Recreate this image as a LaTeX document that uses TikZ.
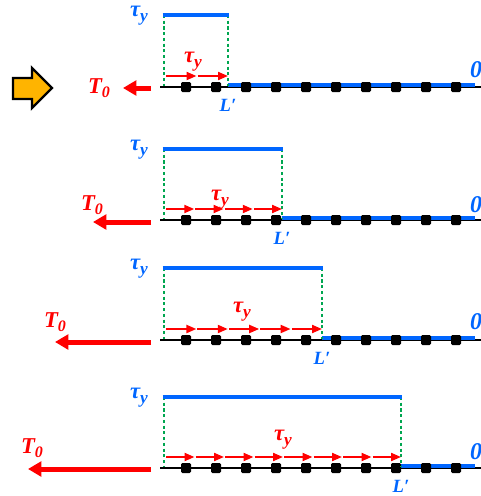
\documentclass[tikz,border=0pt]{standalone}
\usepackage{fontspec}
\setmainfont{Liberation Serif}
\usetikzlibrary{arrows.meta}
\definecolor{lineblue}{RGB}{0,102,255}
\definecolor{dotgreen}{RGB}{0,166,80}
\definecolor{gold}{RGB}{255,180,0}

% stress symbol and pulling force symbol
\newcommand\tauy{τ\raisebox{-0.45ex}{\fontsize{13}{13}\selectfont y}}
\newcommand\tzero{T\raisebox{-0.4ex}{\fontsize{12}{12}\selectfont 0}}

\tikzset{
  base/.style={line width=1.5pt, black},
  bond/.style={draw=none, fill=black, rectangle, minimum size=7.5pt, inner sep=0pt, rounded corners=1pt},
  yieldline/.style={line width=3pt, lineblue},
  guide/.style={dotgreen, line width=2.2pt, dash pattern=on 2.3pt off 2pt},
  stress/.style={red, line width=1.5pt, -{Triangle[length=7.5pt,width=6pt]}},
  pull/.style={red, line width=3.75pt, -{Triangle[length=10pt,width=11pt]}},
  lbl/.style={inner sep=0pt, font=\bfseries\itshape\fontsize{17}{17}\selectfont},
  smalllbl/.style={inner sep=0pt, font=\bfseries\itshape\fontsize{14}{14}\selectfont},
  biglbl/.style={inner sep=0pt, font=\bfseries\itshape\fontsize{18}{18}\selectfont},
}

\begin{document}
\begin{tikzpicture}[x=0.75pt,y=-0.75pt]
\useasboundingbox (0,0) rectangle (481,496);

% loading indicator
\draw[fill=gold, line width=1.8pt, line join=miter]
  (13,78) -- (32,78) -- (32,68) -- (52,88) -- (32,108) -- (32,99) -- (13,99) -- cycle;

% index / baseline / top / L' position / arrows / T0 arrow end / T0 label / red tau label / 0 label
\foreach \i/\pb/\pt/\pL/\pn/\ax/\ay/\tx/\ty/\rx/\ry/\zy in {
  1/87/15/228/2/123/88/99/88/193/62/70,
  2/220/149/282/4/93/222/92/205/220/200/205,
  3/340/268/322/5/55/342/55/322/242/312/322,
  4/468/397/401/8/28/469/32/448/283/440/452}
{
  % chain of bonds
  \coordinate (cl\i) at (160,\pb);
  \coordinate (cr\i) at (481,\pb);
  \draw[base] (cl\i) -- (cr\i);
  \coordinate (yl\i) at (\pL,\pb-2.5);
  \coordinate (yr\i) at (475,\pb-2.5);
  \draw[yieldline] (yl\i) -- (yr\i);
  \foreach \k in {0,...,9}
    \node[bond] (s\i-\k) at (186+30*\k,\pb) {};

  % yield stress level and its bounds
  \coordinate (tl\i) at (164,\pt);
  \coordinate (tr\i) at (\pL,\pt);
  \coordinate (gl\i) at (164,\pb-1);
  \coordinate (gr\i) at (\pL,\pb-1);
  \draw[guide] (tl\i) -- (gl\i);
  \draw[guide] (tr\i) -- (gr\i);
  \draw[yieldline] ([xshift=-1pt]tl\i) -- ([xshift=1pt]tr\i);

  % shear stress arrows along the slipping zone
  \pgfmathsetmacro\seg{(\pL-165)/\pn}
  \foreach \k in {1,...,\pn}{
    \coordinate (a\i-\k) at ({165+(\k-1)*\seg+1},\pb-11);
    \coordinate (b\i-\k) at ({165+\k*\seg},\pb-11);
    \draw[stress] (a\i-\k) -- (b\i-\k);
  }

  % pulling force
  \coordinate (ps\i) at (151,\ay);
  \coordinate (pe\i) at (\ax,\ay);
  \draw[pull] (ps\i) -- (pe\i);

  % labels
  \node[lbl, lineblue] (tauB\i) at (139,\pt+1) {\tauy};
  \node[lbl, red] (tauR\i) at (\rx,\ry) {\tauy};
  \node[lbl, red] (force\i) at (\tx,\ty) {\tzero};
  \node[smalllbl, lineblue] (len\i) at (\pL,\pb+18) {L′};
  \node[biglbl, lineblue] (zero\i) at (476,\zy) {0};
}
\end{tikzpicture}
\end{document}
